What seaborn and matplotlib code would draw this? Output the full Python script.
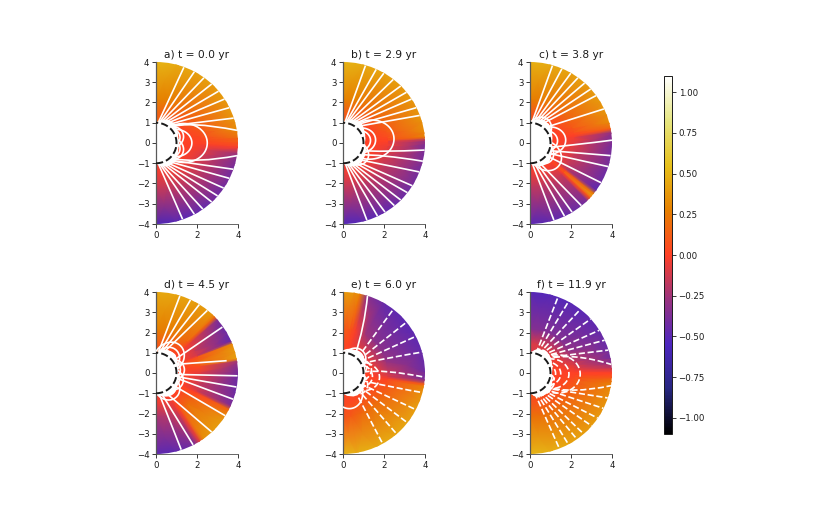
import numpy as np
import matplotlib
matplotlib.use('Agg')
import matplotlib.pyplot as plt
from matplotlib.cm import ScalarMappable
from matplotlib.colors import Normalize
from matplotlib.patches import Circle, PathPatch
from matplotlib.path import Path
import seaborn as sns

# Radii of the rings the colour values were read at (the inner row is repeated
# down to the hole, the outer ring is clipped back to r = 4)
RINGS = [1.45, 2.2, 4.15]
# White area round the star where the field lines bunch up
HOLE_LAT = [-90, -70, -45, -25, 0, 25, 45, 70, 90]
HOLE_R = [1.05, 1.3, 1.35, 1.2, 1.1, 1.2, 1.35, 1.3, 1.05]
TITLES = ['a) t = 0.0 yr', 'b) t = 2.9 yr', 'c) t = 3.8 yr',
          'd) t = 4.5 yr', 'e) t = 6.0 yr', 'f) t = 11.9 yr']
CBAR_TICKS = [-1.0, -0.75, -0.5, -0.25, 0.0, 0.25, 0.5, 0.75, 1.0]

# Panel a: colour values by latitude (deg)
A_LAT = [90, 75, 60, 45, 30, 15, 8, 3, 0, -3, -8, -15, -30, -45, -60, -75, -90]
A_INNER = [.15, .12, .08, .04, .02, 0, 0, 0, 0, 0, 0, 0, 0, -.01, -.02, -.03, -.04]
A_MID = [.3, .27, .22, .18, .14, .08, .04, .01, 0, -.02, -.05, -.09, -.12, -.13, -.14, -.15, -.15]
A_OUTER = [.52, .47, .43, .42, .4, .38, .33, .18, .1, -.02, -.32, -.42, -.44, -.46, -.5, -.53, -.58]

# Panel b
B_LAT = [90, 75, 60, 45, 30, 15, 7, 4, 2, 0, -5, -15, -30, -45, -60, -75, -90]
B_INNER = [.12, .1, .07, .04, .02, 0, 0, 0, 0, 0, 0, 0, -.01, -.02, -.03, -.04, -.05]
B_MID = [.3, .27, .22, .2, .16, .1, .05, .02, 0, -.02, -.06, -.11, -.15, -.16, -.17, -.17, -.16]
B_OUTER = [.52, .47, .43, .41, .39, .37, .33, .28, -.25, -.38, -.42, -.42, -.43, -.46, -.5, -.52, -.55]

# Panel c
C_LAT = [90, 75, 60, 45, 30, 20, 14, 10, 7, 0, -15, -30, -36, -39, -41, -43, -46, -60, -75, -90]
C_INNER = [.1, .08, .06, .03, .01, 0, 0, 0, 0, 0, 0, -.01, -.01, 0, 0, 0, -.01, -.02, -.03, -.04]
C_MID = [.28, .25, .22, .18, .14, .1, .06, 0, -.04, -.08, -.13, -.17, -.18, .05, .1, -.02, -.14, -.17, -.18, -.18]
C_OUTER = [.5, .47, .43, .41, .4, .37, .33, .15, -.36, -.42, -.43, -.47, -.52, .3, .42, .1, -.42, -.48, -.5, -.52]

# Panel d
D_LAT = [90, 75, 60, 46, 44, 41, 30, 23, 21, 15, 10, 8, 0, -15, -24, -27, -35, -45, -55, -58, -62, -75, -90]
D_INNER = [.12, .1, .06, .03, .02, 0, 0, 0, 0, 0, 0, 0, 0, 0, 0, 0, .01, .01, 0, 0, -.02, -.03, -.04]
D_MID = [.28, .26, .24, .16, .1, -.05, -.14, -.12, .08, .15, .1, .05, -.08, -.15, -.12, 0, .14, .2, .12, .02, -.12, -.2, -.24]
D_OUTER = [.47, .44, .42, .38, .2, -.42, -.48, -.5, .35, .42, .42, -.3, -.45, -.47, -.4, .2, .4, .42, .35, -.1, -.42, -.5, -.5]

# Panel e
E_LAT = [90, 82, 78, 73, 60, 45, 30, 15, 0, -5, -8, -10, -20, -35, -50, -65, -80, -90]
E_INNER = [.02, .02, 0, -.02, -.06, -.08, -.08, -.05, 0, 0, 0, 0, .01, .03, .03, .03, .03, .02]
E_MID = [.12, .1, .06, -.02, -.25, -.32, -.32, -.28, -.15, -.08, -.01, .04, .1, .17, .2, .18, .12, .08]
E_OUTER = [.42, .38, .3, -.35, -.48, -.5, -.5, -.48, -.44, -.4, .15, .33, .4, .44, .46, .48, .5, .52]

# Panel f
F_LAT = [90, 75, 60, 45, 30, 15, 10, 6, 3, 0, -3, -6, -10, -15, -30, -45, -60, -75, -90]
F_INNER = [-.1, -.1, -.1, -.08, -.05, -.02, 0, 0, 0, 0, 0, 0, 0, 0, .02, .04, .06, .07, .08]
F_MID = [-.35, -.36, -.36, -.35, -.3, -.16, -.1, -.06, -.03, 0, .02, .04, .08, .1, .14, .18, .2, .21, .22]
F_OUTER = [-.52, -.53, -.52, -.5, -.48, -.45, -.42, -.3, -.15, 0, .1, .25, .32, .35, .4, .42, .45, .49, .53]

# Open field lines: (foot lat, end lat) or (foot lat, end lat, end radius),
# bent ones also carry a control point (x, y)
A_OPEN = [(84, 70), (81, 62), (78, 54), (74, 47), (70, 40), (66, 33), (61, 26), (56, 18),
          (50, 9, 4.0, 1.6, 1.1),
          (-50, -9, 4.0, 2.0, -1.0), (-56, -19), (-61, -26), (-66, -34), (-70, -41),
          (-74, -47), (-78, -55), (-81, -62), (-84, -71)]
A_LOOPS = [(0, 2.5), (0, 1.75), (20, 1.4), (-20, 1.4), (20, 1.22), (-20, 1.22)]

B_OPEN = [(85, 74), (82, 66), (79, 60), (76, 52), (72, 45), (68, 39), (64, 33), (59, 26), (53, 20),
          (-22, -5, 4.0, 1.8, -.45), (-36, -13, 4.0, 1.8, -.55), (-52, -21), (-58, -32), (-63, -38),
          (-68, -45), (-72, -51), (-76, -59), (-80, -65), (-84, -73)]
B_LOOPS = [(7, 2.5), (8, 1.6), (8, 1.35), (-38, 1.45), (-38, 1.22)]

C_OPEN = [(85, 74), (82, 67), (78, 60), (75, 54), (71, 48), (67, 42), (62, 36), (48, 25),
          (-12, 2, 4.0, 2.2, -.1), (-22, -9), (-30, -17), (-38, -29.5),
          (-66, -51), (-72, -59), (-78, -65), (-84, -73)]
C_LOOPS = [(55, 1.45), (55, 1.25), (7, 1.75), (7, 1.35), (-39, 1.8), (-39, 1.35)]

D_OPEN = [(84, 73), (80, 65), (76, 58), (72, 51), (36, 35, 3.95), (25, 10, 3.5),
          (-4, -2), (-10, -10), (-14, -19), (-36, -32), (-66, -47), (-76, -63), (-82, -72)]
D_LOOPS = [(50, 1.8), (50, 1.5), (50, 1.25), (10, 1.4), (10, 1.2), (-22, 1.4), (-22, 1.2),
           (-52, 1.55), (-52, 1.3)]

E_SOLID = [(55, 72.6, 4.0, 1.05, 2.3)]
E_OPEN = [(46, 52), (40, 39), (34, 27), (28, 15, 4.0, 2.2, .75), (3, -3, 4.0, 2.0, .2),
          (-22, -14, 4.0, 2.6, -.75), (-32, -27), (-40, -38), (-48, -49), (-56, -61)]
E_SOLID_LOOPS = [(50, 1.45), (50, 1.3), (-75, 1.8), (70, 1.2), (-55, 1.2)]
E_LOOPS = [(-10, 1.8), (-10, 1.45), (10, 1.4), (-38, 1.4), (25, 1.25)]

F_OPEN = [(73, 70), (70, 62), (66, 52), (62, 42), (57, 32), (53, 24), (48, 16.5), (42, 6, 4.0, 2.0, 1.05),
          (-42, -9, 4.0, 2.0, -1.05), (-47, -18), (-50, -26), (-55, -34), (-59, -41), (-63, -49),
          (-68, -55), (-72, -62), (-77, -69)]
F_LOOPS = [(-2, 2.45), (-2, 1.9), (-2, 1.5), (-2, 1.25), (55, 1.3), (40, 1.2), (-30, 1.3),
           (-45, 1.3), (-60, 1.25)]

sns.set_theme(style='ticks', rc={'xtick.color': 'k', 'ytick.color': 'k', 'axes.edgecolor': 'k',
                                 'text.color': 'k', 'axes.labelcolor': 'k'})
plt.rcParams['font.family'] = ['DejaVu Sans']

cmap = sns.color_palette('CMRmap', as_cmap=True)
norm = Normalize(-1.1, 1.1)


def polar(r, lat):
    return r * np.cos(np.radians(lat)), r * np.sin(np.radians(lat))


def draw_open(ax, lines, style):
    for line in lines:
        end_r = line[2] if len(line) > 2 else 3.98
        p0 = polar(1.0, line[0])
        p1 = polar(end_r, line[1])
        ctrl = line[3:5] if len(line) > 3 else ((p0[0] + p1[0]) / 2, (p0[1] + p1[1]) / 2)
        path = Path([p0, ctrl, p1], [Path.MOVETO, Path.CURVE3, Path.CURVE3])
        ax.add_patch(PathPatch(path, fc='none', ec='w', lw=1.2, ls=style, zorder=3))


def draw_loops(ax, loops, style):
    for center, shell in loops:
        lim = np.degrees(np.arccos(np.sqrt(1.08 / shell)))
        dlat = np.linspace(-lim, lim, 80)
        r = shell * np.cos(np.radians(dlat)) ** 2
        x, y = polar(r, center + dlat)
        keep = x >= 0
        ax.plot(x[keep], y[keep], color='w', lw=1.2, ls=style, zorder=3)


def draw_panel(ax, title, lat, inner, mid, outer):
    lat = np.array(lat, dtype=float)
    hole = np.interp(lat, HOLE_LAT, HOLE_R)
    rr = np.vstack([hole, *[np.full(lat.shape, r) for r in RINGS]])
    ll = np.tile(lat, (len(RINGS) + 1, 1))
    x, y = polar(rr, ll)
    c = np.array([inner, inner, mid, outer])
    mesh = ax.pcolormesh(x, y, c, cmap=cmap, norm=norm, shading='gouraud', zorder=1)
    mesh.set_clip_path(Circle((0, 0), 4.0, transform=ax.transData))
    th = np.linspace(-90, 90, 120)
    cx, cy = polar(1.0, th)
    ax.plot(cx, cy, color='k', lw=1.4, ls='--', zorder=4)
    ax.set_xlim(0, 4)
    ax.set_ylim(-4, 4)
    ax.set_xticks([0, 2, 4])
    ax.set_yticks([-4, -3, -2, -1, 0, 1, 2, 3, 4])
    ax.tick_params(labelsize=6.2, length=2.7, width=0.6, pad=2)
    ax.set_title(title, fontsize=7.7, pad=3)
    sns.despine(ax=ax)
    ax.spines['left'].set_linewidth(0.9)
    ax.spines['left'].set_color('.35')
    ax.spines['bottom'].set_linewidth(0.6)
    ax.spines['bottom'].set_color('.3')


fig = plt.figure(figsize=(8.3, 5.11), dpi=100)
lefts = [156, 343, 530]
bottoms = [224, 454]
axes = []
for row in range(2):
    for col in range(3):
        axes.append(fig.add_axes([lefts[col] / 830, 1 - bottoms[row] / 511, 82 / 830, 162 / 511]))

panels = [(A_LAT, A_INNER, A_MID, A_OUTER), (B_LAT, B_INNER, B_MID, B_OUTER),
          (C_LAT, C_INNER, C_MID, C_OUTER), (D_LAT, D_INNER, D_MID, D_OUTER),
          (E_LAT, E_INNER, E_MID, E_OUTER), (F_LAT, F_INNER, F_MID, F_OUTER)]
for ax, title, values in zip(axes, TITLES, panels):
    draw_panel(ax, title, *values)

draw_open(axes[0], A_OPEN, '-')
draw_loops(axes[0], A_LOOPS, '-')
draw_open(axes[1], B_OPEN, '-')
draw_loops(axes[1], B_LOOPS, '-')
draw_open(axes[2], C_OPEN, '-')
draw_loops(axes[2], C_LOOPS, '-')
draw_open(axes[3], D_OPEN, '-')
draw_loops(axes[3], D_LOOPS, '-')
draw_open(axes[4], E_SOLID, '-')
draw_loops(axes[4], E_SOLID_LOOPS, '-')
draw_open(axes[4], E_OPEN, '--')
draw_loops(axes[4], E_LOOPS, '--')
draw_open(axes[5], F_OPEN, '--')
draw_loops(axes[5], F_LOOPS, '--')

# Colourbar on its own axes
cax = fig.add_axes([664 / 830, 1 - 434 / 511, 8 / 830, 358 / 511])
cbar = fig.colorbar(ScalarMappable(norm=norm, cmap=cmap), cax=cax, ticks=CBAR_TICKS)
cbar.ax.tick_params(labelsize=6.2, length=2.7, width=0.6, pad=2)
cbar.outline.set_linewidth(0.7)

fig.savefig('out.png', dpi=100)
